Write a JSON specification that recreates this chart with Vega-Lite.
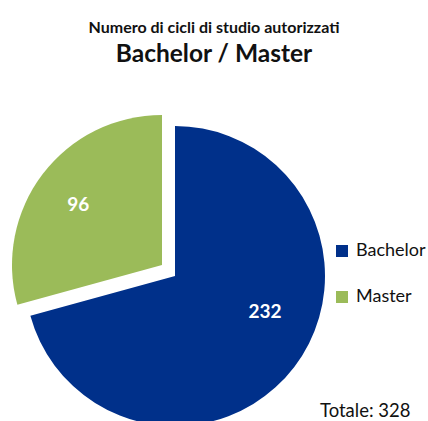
{
  "$schema": "https://vega.github.io/schema/vega-lite/v6.json",
  "autosize": "none",
  "width": 300,
  "height": 290,
  "padding": {"left": 25, "top": 131, "right": 103, "bottom": 0},
  "background": "white",
  "config": {
    "font": "Lato",
    "view": {"stroke": null},
    "legend": {
      "orient": "none",
      "legendX": 295,
      "legendY": 111,
      "padding": 0,
      "symbolType": "square",
      "symbolSize": 144,
      "symbolStrokeWidth": 0,
      "symbolOffset": 13,
      "labelOffset": 5,
      "labelFontSize": 18,
      "labelColor": "#111111",
      "labelFont": "Lato",
      "labelLimit": 120,
      "rowPadding": 28,
      "titleOrient": "bottom",
      "titleAnchor": "start",
      "titleFontSize": 18.5,
      "titleFontWeight": "normal",
      "titleColor": "#111111",
      "titlePadding": 96,
      "titleLimit": 200
    }
  },
  "title": {
    "text": "Numero di cicli di studio autorizzati",
    "subtitle": "Bachelor / Master",
    "fontSize": 16,
    "fontWeight": "bold",
    "color": "#111111",
    "subtitleFontSize": 24.5,
    "subtitleFontWeight": "bold",
    "subtitleColor": "#111111",
    "subtitlePadding": 7,
    "anchor": "middle",
    "dx": 39,
    "offset": 49
  },
  "data": {"values": [
    {"tipo": "Bachelor", "n": 232},
    {"tipo": "Master", "n": 96}
  ]},
  "transform": [
    {"stack": "n", "groupby": [], "sort": [{"field": "tipo", "order": "ascending"}], "as": ["n0", "n1"]}
  ],
  "layer": [
    {
      "transform": [{"filter": "datum.tipo === 'Bachelor'"}],
      "mark": {"type": "arc", "outerRadius": 150},
      "encoding": {
        "theta": {"field": "n0", "type": "quantitative"},
        "theta2": {"field": "n1"},
        "color": {
          "field": "tipo", "type": "nominal",
          "scale": {"domain": ["Bachelor", "Master"], "range": ["#00308A", "#9BBB59"]},
          "legend": {"title": "Totale: 328"}
        }
      }
    },
    {
      "transform": [{"filter": "datum.tipo === 'Master'"}],
      "mark": {"type": "arc", "outerRadius": 150, "xOffset": -13, "yOffset": -11},
      "encoding": {
        "theta": {"field": "n0", "type": "quantitative"},
        "theta2": {"field": "n1"},
        "color": {
          "field": "tipo", "type": "nominal",
          "scale": {"domain": ["Bachelor", "Master"], "range": ["#00308A", "#9BBB59"]},
          "legend": {"title": "Totale: 328"}
        }
      }
    },
    {
      "mark": {"type": "text", "radius": 97, "thetaOffset": -0.27, "fontSize": 19, "fontWeight": "bold", "color": "white"},
      "encoding": {
        "theta": {"field": "n", "type": "quantitative", "stack": true},
        "order": {"field": "tipo", "sort": "ascending"},
        "text": {"condition": {"test": "datum.tipo === 'Bachelor'", "field": "n", "type": "quantitative"}, "value": ""}
      }
    },
    {
      "mark": {"type": "text", "radius": 104, "xOffset": -14, "yOffset": -8, "fontSize": 19, "fontWeight": "bold", "color": "white"},
      "encoding": {
        "theta": {"field": "n", "type": "quantitative", "stack": true},
        "order": {"field": "tipo", "sort": "ascending"},
        "text": {"condition": {"test": "datum.tipo === 'Master'", "field": "n", "type": "quantitative"}, "value": ""}
      }
    }
  ],
  "resolve": {"legend": {"color": "shared"}}
}
